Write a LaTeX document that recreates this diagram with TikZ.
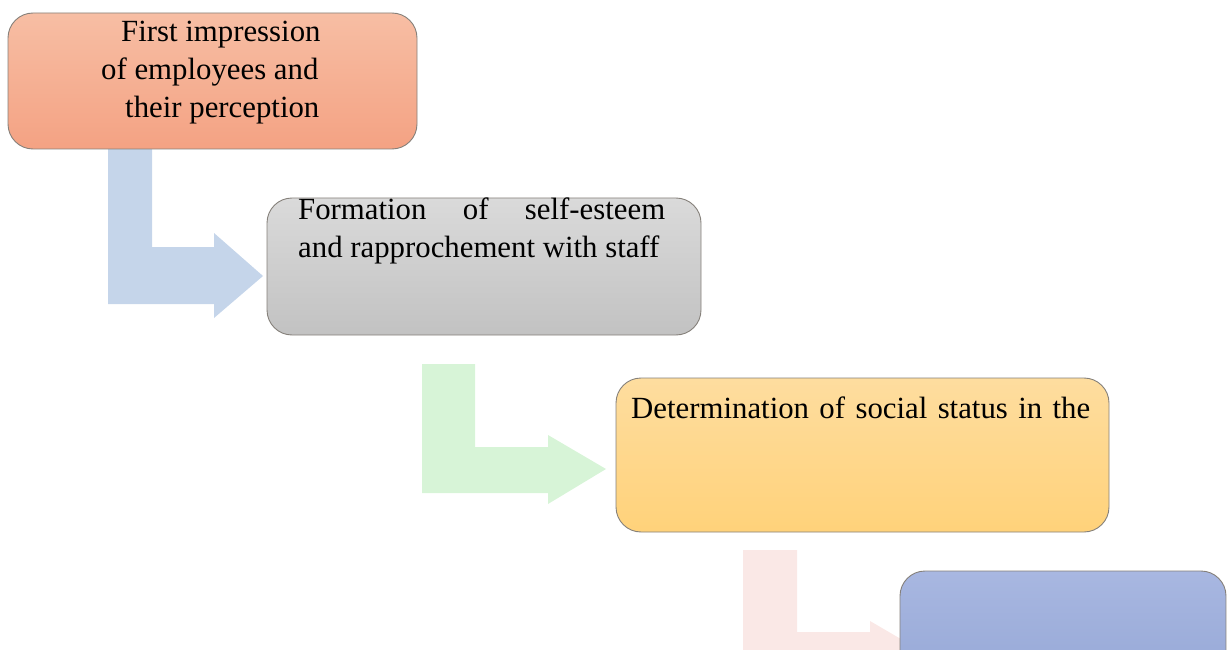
\documentclass[tikz,border=0pt]{standalone}
\usepackage{fontspec}
\setmainfont{Liberation Serif}
\definecolor{b1top}{HTML}{F7BEA4}
\definecolor{b1bot}{HTML}{F4A283}
\definecolor{b2top}{HTML}{DADADA}
\definecolor{b2bot}{HTML}{C2C2C2}
\definecolor{b3top}{HTML}{FEDD9F}
\definecolor{b3bot}{HTML}{FFD27A}
\definecolor{b4top}{HTML}{A8B7E1}
\definecolor{b4bot}{HTML}{8FA2D2}
\definecolor{arrA}{HTML}{C5D5EA}
\definecolor{arrB}{HTML}{D7F4D7}
\definecolor{arrC}{HTML}{FAE8E6}
\definecolor{edge}{HTML}{85807A}
\tikzset{
  stagebox/.style={draw=edge, line width=0.9pt, rounded corners=25pt, inner sep=0pt},
  label/.style={anchor=base west, inner sep=0pt, font=\fontsize{30.8}{38}\selectfont},
}
\begin{document}
\begin{tikzpicture}[x=1pt,y=-1pt]
\useasboundingbox (0,0) rectangle (1227,650);
\clip (0,0) rectangle (1227,650);
% bent arrows
\fill[arrA] (108,140) -- (152,140) -- (152,247) -- (214,247) -- (214,233) -- (263,276) -- (214,318) -- (214,304) -- (108,304) -- cycle;
\fill[arrB] (422,364) -- (475,364) -- (475,447) -- (548,447) -- (548,435) -- (606,469) -- (548,504) -- (548,493) -- (422,493) -- cycle;
\fill[arrC] (743,550) -- (797,550) -- (797,632) -- (870,632) -- (870,621) -- (930,656) -- (870,690) -- (870,680) -- (743,680) -- cycle;
% boxes
\node[stagebox, top color=b1top, bottom color=b1bot, minimum width=409pt, minimum height=136pt] (b1) at (212.5,81) {};
\node[stagebox, top color=b2top, bottom color=b2bot, minimum width=434pt, minimum height=137pt] (b2) at (484,266.5) {};
\node[stagebox, top color=b3top, bottom color=b3bot, minimum width=493pt, minimum height=154pt] (b3) at (862.5,455) {};
\node[stagebox, top color=b4top, bottom color=b4bot, minimum width=326pt, minimum height=160pt] (b4) at (1063,651) {};
% texts
\node[label] (t1a) at (121,42) {First impression};
\node[label] (t1b) at (101,80) {of employees and};
\node[label] (t1c) at (125,118) {their perception};
\node[label] (t2a) at (298,219) {\makebox[367pt][s]{Formation of self-esteem}};
\node[label] (t2b) at (298,257) {and rapprochement with staff};
\node[label] (t3a) at (631,418) {\makebox[459pt][s]{Determination of social status in the}};
\end{tikzpicture}
\end{document}
